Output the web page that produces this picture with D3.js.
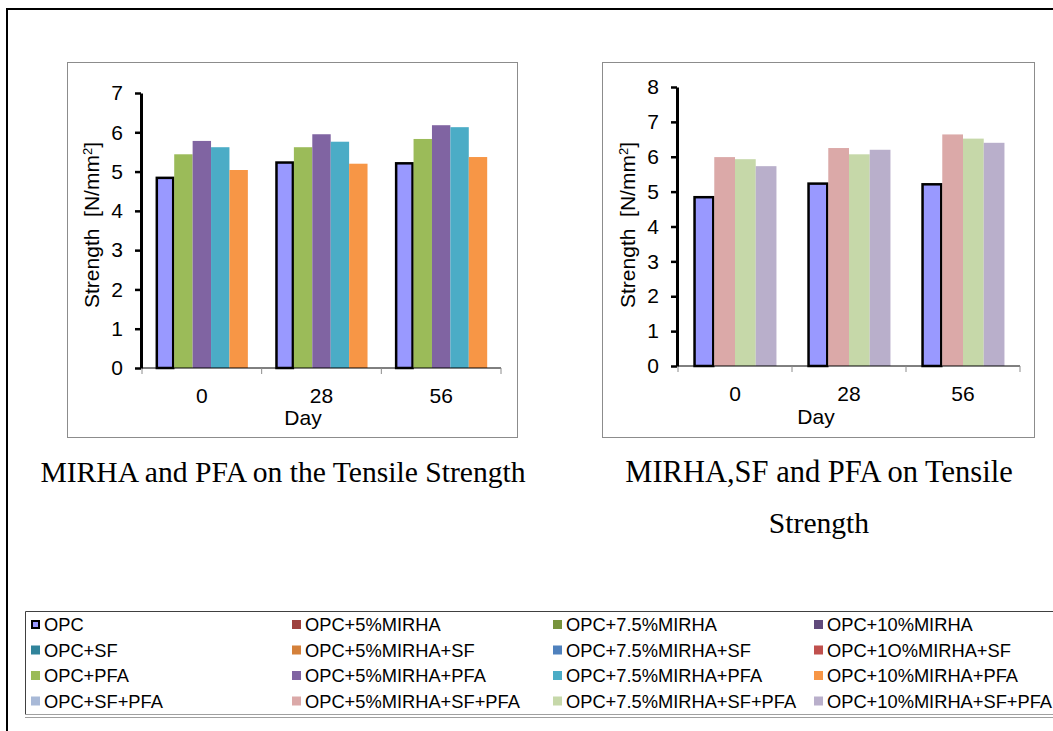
<!DOCTYPE html>
<html>
<head>
<meta charset="utf-8">
<script src="https://cdn.jsdelivr.net/npm/d3@7"></script>
<style>
  html, body { margin: 0; padding: 0; background: #fff; }
  svg { display: block; }
  text { font-family: "Liberation Sans", Arial, sans-serif; fill: #000; }
  .caption { font-family: "Liberation Serif", "Times New Roman", serif; font-size: 29.6px; }
</style>
</head>
<body>
<svg id="fig" width="1053" height="731"></svg>
<script>
// Test ages (days)
const days = ["0", "28", "56"];

// Tensile strength, N/mm²
const opc        = [4.84, 5.23, 5.21];
const opcPfa     = [5.44, 5.62, 5.83];
const opc5Pfa    = [5.78, 5.95, 6.18];
const opc75Pfa   = [5.62, 5.76, 6.13];
const opc10Pfa   = [5.04, 5.20, 5.37];
const opc5SfPfa  = [5.99, 6.25, 6.64];
const opc75SfPfa = [5.93, 6.07, 6.52];
const opc10SfPfa = [5.73, 6.20, 6.40];

// Shared legend (reading order: row by row)
const legendNames = [
  "OPC", "OPC+5%MIRHA", "OPC+7.5%MIRHA", "OPC+10%MIRHA",
  "OPC+SF", "OPC+5%MIRHA+SF", "OPC+7.5%MIRHA+SF", "OPC+1O%MIRHA+SF",
  "OPC+PFA", "OPC+5%MIRHA+PFA", "OPC+7.5%MIRHA+PFA", "OPC+10%MIRHA+PFA",
  "OPC+SF+PFA", "OPC+5%MIRHA+SF+PFA", "OPC+7.5%MIRHA+SF+PFA", "OPC+10%MIRHA+SF+PFA"
];
const legendColors = [
  "#9999ff", "#9e413e", "#77933c", "#604a7b",
  "#31849b", "#d4803a", "#4f81bd", "#c0504d",
  "#9bbb59", "#8064a2", "#4bacc6", "#f79646",
  "#a8b9d7", "#dba9a8", "#c6d8a9", "#b9afcb"
];

const colorOf = name => legendColors[legendNames.indexOf(name)];

const leftSeries = [
  { name: "OPC", values: opc },
  { name: "OPC+PFA", values: opcPfa },
  { name: "OPC+5%MIRHA+PFA", values: opc5Pfa },
  { name: "OPC+7.5%MIRHA+PFA", values: opc75Pfa },
  { name: "OPC+10%MIRHA+PFA", values: opc10Pfa }
];
const rightSeries = [
  { name: "OPC", values: opc },
  { name: "OPC+5%MIRHA+SF+PFA", values: opc5SfPfa },
  { name: "OPC+7.5%MIRHA+SF+PFA", values: opc75SfPfa },
  { name: "OPC+10%MIRHA+SF+PFA", values: opc10SfPfa }
];

const svg = d3.select("#fig");

// Page frame (top and left rules)
svg.append("path")
  .attr("d", "M7,731V9H1053")
  .attr("fill", "none").attr("stroke", "#000").attr("stroke-width", 2);

function drawChart(cfg) {
  // outer chart area border
  svg.append("rect")
    .attr("x", cfg.box[0] + 0.5).attr("y", cfg.box[1] + 0.5)
    .attr("width", cfg.box[2]).attr("height", cfg.box[3])
    .attr("fill", "#fff").attr("stroke", "#8c8c8c").attr("stroke-width", 1);

  const g = svg.append("g");
  const x0 = d3.scaleBand().domain(days).range([cfg.plot.left, cfg.plot.right]);
  const x1 = d3.scaleBand().domain(cfg.series.map(s => s.name))
    .range([0, x0.bandwidth()]).paddingInner(0).paddingOuter(0.75);
  const y = d3.scaleLinear().domain([0, cfg.yMax]).range([cfg.plot.bottom, cfg.plot.top]);

  // bars
  cfg.series.forEach(s => {
    const isOpc = s.name === "OPC";
    g.append("g").selectAll("rect")
      .data(days.map((d, i) => ({ d, v: s.values[i] })))
      .join("rect")
      .attr("x", p => x0(p.d) + x1(s.name) + (isOpc ? 1 : 0))
      .attr("y", p => y(p.v))
      .attr("width", x1.bandwidth() - (isOpc ? 2 : 0))
      .attr("height", p => y(0) - y(p.v))
      .attr("fill", colorOf(s.name))
      .attr("stroke", isOpc ? "#000" : "none")
      .attr("stroke-width", isOpc ? 2.5 : 0);
  });

  // category axis
  const xAxis = g.append("g").attr("transform", `translate(0,${cfg.plot.bottom})`);
  xAxis.append("line")
    .attr("x1", cfg.plot.left).attr("x2", cfg.plot.right)
    .attr("stroke", "#000").attr("stroke-width", 1);
  const bounds = days.map(d => x0(d)).concat([cfg.plot.right]);
  xAxis.selectAll("line.tk").data(bounds).join("line").attr("class", "tk")
    .attr("x1", d => d).attr("x2", d => d).attr("y1", 0).attr("y2", 6)
    .attr("stroke", "#8c8c8c").attr("stroke-width", 1);
  xAxis.selectAll("text").data(days).join("text")
    .attr("x", d => x0(d) + x0.bandwidth() / 2)
    .attr("y", cfg.xLabelY - cfg.plot.bottom)
    .attr("text-anchor", "middle")
    .style("font-size", "21px")
    .text(d => d);

  // value axis
  const yAxis = g.append("g").attr("transform", `translate(${cfg.plot.left - 1},0)`)
    .call(d3.axisLeft(y).ticks(cfg.yMax).tickSizeOuter(0).tickSizeInner(6).tickPadding(12));
  yAxis.attr("font-family", null).attr("font-size", null);
  yAxis.select(".domain").style("stroke", "#000").style("stroke-width", "3px");
  yAxis.selectAll(".tick line").style("stroke", "#000").style("stroke-width", "2.5px");
  yAxis.selectAll(".tick text").style("font-size", "21px");

  // axis titles
  g.append("text")
    .attr("x", cfg.dayX).attr("y", cfg.dayY)
    .attr("text-anchor", "middle").style("font-size", "21px")
    .text("Day");
  const yt = g.append("text")
    .attr("transform", `translate(${cfg.yTitleX},${cfg.yTitleY}) rotate(-90)`)
    .attr("text-anchor", "middle").style("font-size", "21px");
  yt.append("tspan").text("Strength\u00a0\u00a0[N/mm");
  yt.append("tspan").attr("dy", -7).style("font-size", "13px").text("2");
  yt.append("tspan").attr("dy", 7).text("]");
}

drawChart({
  box: [67, 62, 450, 375],
  plot: { left: 142, right: 501, top: 93, bottom: 368 },
  yMax: 7,
  series: leftSeries,
  xLabelY: 403,
  dayX: 303, dayY: 425,
  yTitleX: 99, yTitleY: 225
});

drawChart({
  box: [602, 62, 432, 375],
  plot: { left: 678, right: 1020, top: 87, bottom: 366 },
  yMax: 8,
  series: rightSeries,
  xLabelY: 401,
  dayX: 816, dayY: 424,
  yTitleX: 635, yTitleY: 225
});

// Captions under each chart
svg.append("text").attr("class", "caption")
  .attr("x", 283).attr("y", 482).attr("text-anchor", "middle")
  .text("MIRHA and PFA on the Tensile Strength");
svg.append("text").attr("class", "caption")
  .attr("x", 819).attr("y", 482).attr("text-anchor", "middle")
  .style("font-size", "30.5px")
  .text("MIRHA,SF and PFA on Tensile");
svg.append("text").attr("class", "caption")
  .attr("x", 819).attr("y", 533).attr("text-anchor", "middle")
  .text("Strength");

// Legend box
const lg = svg.append("g");
lg.append("path").attr("d", "M25.5,715V611.5H1053")
  .attr("fill", "none").attr("stroke", "#404040").attr("stroke-width", 1);
lg.append("line").attr("x1", 25).attr("x2", 1053).attr("y1", 714.5).attr("y2", 714.5)
  .attr("stroke", "#a0a0a0");
lg.append("line").attr("x1", 25).attr("x2", 1053).attr("y1", 717.5).attr("y2", 717.5)
  .attr("stroke", "#a0a0a0");

const colX = d3.scaleBand().domain(d3.range(4)).range([31, 1075]);
const rowY = d3.scalePoint().domain(d3.range(4)).range([624.5, 701]);

const items = lg.selectAll("g.item")
  .data(legendNames.map((n, i) => ({ n, i })))
  .join("g").attr("class", "item")
  .attr("transform", d => `translate(${colX(d.i % 4)},${rowY(Math.floor(d.i / 4))})`);
items.append("rect")
  .attr("x", d => d.n === "OPC" ? 1 : 0)
  .attr("y", d => d.n === "OPC" ? -3.5 : -4.5)
  .attr("width", d => d.n === "OPC" ? 7 : 9)
  .attr("height", d => d.n === "OPC" ? 7 : 9)
  .attr("fill", d => legendColors[d.i])
  .attr("stroke", d => d.n === "OPC" ? "#000" : "none")
  .attr("stroke-width", 2);
items.append("text")
  .attr("x", 13).attr("y", 0).attr("dy", "0.36em")
  .style("font-size", "18.3px")
  .text(d => d.n);
</script>
</body>
</html>
